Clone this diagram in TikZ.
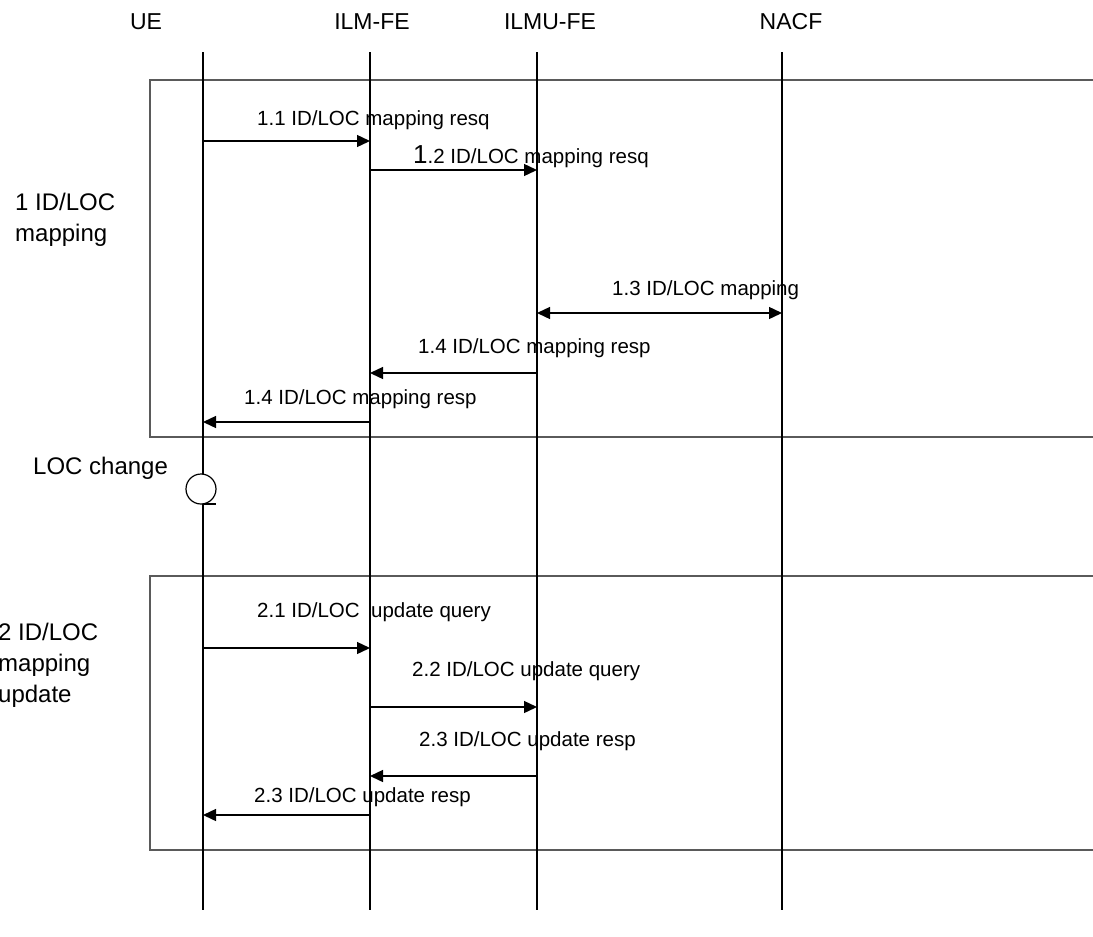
\documentclass[tikz,border=0pt]{standalone}
\usepackage{fontspec}
\setmainfont{Liberation Sans}
\usetikzlibrary{arrows.meta}
\definecolor{FrameGray}{HTML}{5A5A5A}
\tikzset{
  phasebox/.style={draw=FrameGray, line width=1.3pt},
  entity/.style={anchor=base, inner sep=0pt, font=\fontsize{23}{27}\selectfont},
  lifeline/.style={line width=2.4pt},
  msg/.style={-{Triangle[length=13pt,width=12pt]}, line width=1.4pt},
  dualmsg/.style={{Triangle[length=13pt,width=12pt]}-{Triangle[length=13pt,width=12pt]}, line width=1.4pt},
  msglabel/.style={anchor=base west, inner sep=0pt, font=\fontsize{20.5}{24}\selectfont},
  phaselabel/.style={anchor=north west, inner sep=0pt, align=left, font=\fontsize{24}{31}\selectfont},
  eventlabel/.style={anchor=base west, inner sep=0pt, font=\fontsize{24}{28}\selectfont},
  eventmark/.style={draw, fill=white, line width=1.2pt}
}
\begin{document}
\begin{tikzpicture}[x=1pt,y=-1pt]
\useasboundingbox (0,0) rectangle (1093,937);
% phase frames
\draw[phasebox] (150,80) rectangle (1100,437);
\draw[phasebox] (150,576) rectangle (1100,850);
% entities and lifelines
\node[entity] (ue) at (146,29) {UE};
\node[entity] (ilm) at (372,29) {ILM-FE};
\node[entity] (ilmu) at (550,29) {ILMU-FE};
\node[entity] (nacf) at (791,29) {NACF};
\foreach \e/\x in {ue/203,ilm/370,ilmu/537,nacf/782} {
  \coordinate (\e-top) at (\x,52);
  \coordinate (\e-bot) at (\x,910);
  \draw[lifeline] (\e-top) -- (\e-bot);
}
% phase labels
\node[phaselabel] (phase1) at (15,193) {1 ID/LOC\\mapping};
\node[phaselabel] (phase2) at (-2,623) {2 ID/LOC\\mapping\\update};
% phase 1 messages
\draw[msg] (ue-top |- 0,141) -- (ilm-top |- 0,141);
\node[msglabel] (l11) at (257,125) {1.1 ID/LOC mapping resq};
\draw[msg] (ilm-top |- 0,170) -- (ilmu-top |- 0,170);
\node[msglabel] (l12) at (413,163) {{\fontsize{26}{28}\selectfont 1}.2 ID/LOC mapping resq};
\draw[dualmsg] (ilmu-top |- 0,313) -- (nacf-top |- 0,313);
\node[msglabel] (l13) at (612,295) {1.3 ID/LOC mapping};
\draw[msg] (ilmu-top |- 0,373) -- (ilm-top |- 0,373);
\node[msglabel] (l14a) at (418,353) {1.4 ID/LOC mapping resp};
\draw[msg] (ilm-top |- 0,422) -- (ue-top |- 0,422);
\node[msglabel] (l14b) at (244,404) {1.4 ID/LOC mapping resp};
% location change
\node[eventlabel] (locchg) at (33,474) {LOC change};
\draw[eventmark] (201,489) circle[radius=15];
\draw[line width=1.2pt] (ue-top |- 0,504) -- ++(13,0);
% phase 2 messages
\draw[msg] (ue-top |- 0,648) -- (ilm-top |- 0,648);
\node[msglabel] (l21) at (257,617) {2.1 ID/LOC\ \ update query};
\draw[msg] (ilm-top |- 0,707) -- (ilmu-top |- 0,707);
\node[msglabel] (l22) at (412,676) {2.2 ID/LOC update query};
\draw[msg] (ilmu-top |- 0,776) -- (ilm-top |- 0,776);
\node[msglabel] (l23a) at (419,746) {2.3 ID/LOC update resp};
\draw[msg] (ilm-top |- 0,815) -- (ue-top |- 0,815);
\node[msglabel] (l23b) at (254,802) {2.3 ID/LOC update resp};
\end{tikzpicture}
\end{document}
